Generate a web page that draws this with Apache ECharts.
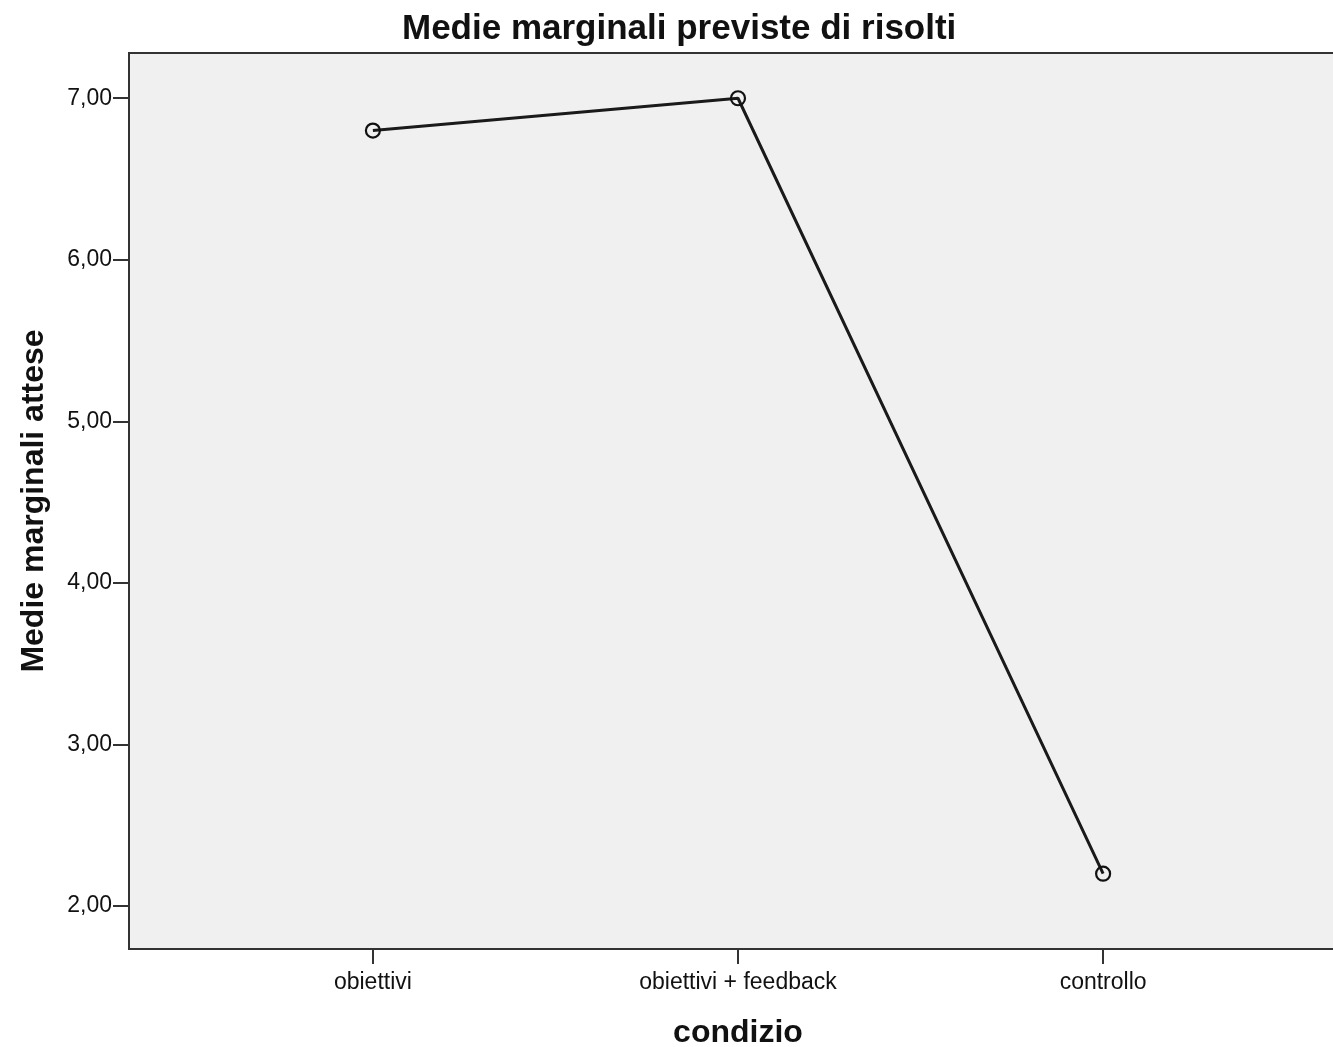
<!DOCTYPE html>
<html>
<head>
<meta charset="utf-8">
<script src="https://cdn.jsdelivr.net/npm/echarts@6/dist/echarts.min.js"></script>
<style>
    html, body { margin: 0; padding: 0; background: #fff; }
    #chart { width: 1333px; height: 1047px; }
</style>
</head>
<body>
<div id="chart"></div>
<script>
    var categories = ['obiettivi', 'obiettivi + feedback', 'controllo'];
    var values = [6.80, 7.00, 2.20];
    var yTicks = [2, 3, 4, 5, 6, 7];

    var points = values.map(function (v, i) { return [i, v]; });
    var font = '"Liberation Sans", Arial, sans-serif';

    var myChart = echarts.init(document.getElementById('chart'));
    var option = {
        animation: false,
        title: {
            text: 'Medie marginali previste di risolti',
            left: 397,
            top: 7,
            textStyle: { fontFamily: font, fontSize: 35, fontWeight: 'bold', color: '#111' }
        },
        grid: {
            left: 129,
            top: 53,
            width: 1218,
            height: 896,
            outerBoundsMode: 'none',
            show: true,
            backgroundColor: '#f0f0f0',
            borderColor: '#333',
            borderWidth: 2
        },
        xAxis: {
            type: 'value',
            min: -0.668,
            max: 2.668,
            name: 'condizio',
            nameLocation: 'middle',
            nameGap: 68,
            nameTextStyle: { fontFamily: font, fontSize: 32, fontWeight: 'bold', color: '#111' },
            splitLine: { show: false },
            axisLine: { show: true, onZero: false, lineStyle: { color: '#333', width: 2 } },
            axisTick: { show: true, length: 15, customValues: [0, 1, 2], lineStyle: { color: '#333', width: 2 } },
            axisLabel: {
                customValues: [0, 1, 2],
                margin: 22,
                fontFamily: font, fontSize: 23, color: '#111',
                formatter: function (v) { return categories[Math.round(v)]; }
            }
        },
        yAxis: {
            type: 'value',
            min: 1.734,
            max: 7.28,
            name: 'Medie marginali attese',
            nameLocation: 'middle',
            nameGap: 79,
            nameTextStyle: { fontFamily: font, fontSize: 32, fontWeight: 'bold', color: '#111' },
            splitLine: { show: false },
            axisLine: { show: true, onZero: false, lineStyle: { color: '#333', width: 2 } },
            axisTick: { show: true, length: 16, customValues: yTicks, lineStyle: { color: '#333', width: 2 } },
            axisLabel: {
                customValues: yTicks,
                margin: 17,
                padding: [6, 0, 0, 0],
                fontFamily: font, fontSize: 23, color: '#111',
                formatter: function (v) { return v.toFixed(2).replace('.', ','); }
            }
        },
        series: [
            {
                type: 'line',
                data: points,
                symbol: 'circle',
                symbolSize: 14,
                itemStyle: { color: 'transparent', borderColor: '#111', borderWidth: 2.2 },
                lineStyle: { color: '#1a1a1a', width: 3 }
            }
        ]
    };
    myChart.setOption(option);
</script>
</body>
</html>
